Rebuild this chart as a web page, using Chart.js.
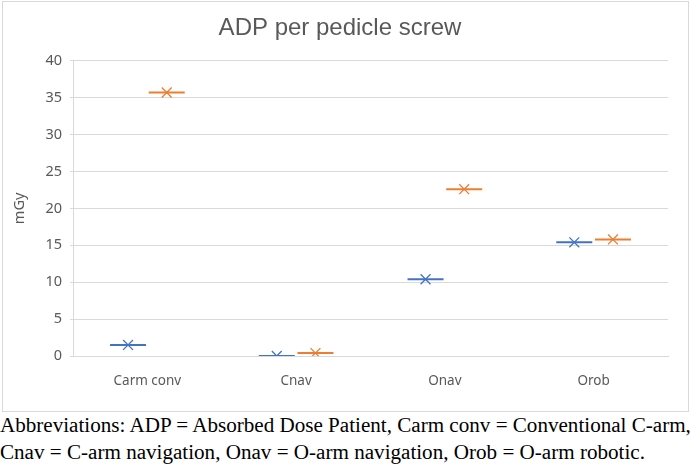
<!DOCTYPE html>
<html>
<head>
<meta charset="utf-8">
<script src="https://cdn.jsdelivr.net/npm/chart.js@4"></script>
<style>
  body { margin: 0; background: #fff; width: 694px; height: 471px; overflow: hidden; position: relative; }
  #box { position: absolute; left: 2px; top: 1px; width: 685px; height: 409px; border: 1px solid #d9d9d9; }
  #caption { position: absolute; left: 0px; top: 412px; font-family: "Liberation Serif", serif; font-size: 21.1px; line-height: 27px; color: #000; white-space: nowrap; }
</style>
</head>
<body>
<div id="box"><canvas id="chart" width="685" height="409"></canvas></div>
<div id="caption">Abbreviations: ADP = Absorbed Dose Patient, Carm conv = Conventional C-arm,<br>Cnav = C-arm navigation, Onav = O-arm navigation, Orob = O-arm robotic.</div>
<script>
const categories = ['Carm conv', 'Cnav', 'Onav', 'Orob'];
const blueValues = [1.5, 0, 10.4, 15.4];
const orangeValues = [35.7, 0.4, 22.6, 15.8];
const yTicks = [0, 5, 10, 15, 20, 25, 30, 35, 40];

const BLUE = '#4472C4';
const ORANGE = '#ED7D31';
const GRAY = '#595959';

// x position inside each category group, blue left and orange right
function toPoints(values, shift) {
    return values.map((v, i) => ({ x: i + shift, y: v }));
}

function seriesSets(label, values, shift, color) {
    const pts = toPoints(values, shift);
    return [
        {
            label: label,
            data: pts,
            clip: 0,
            pointStyle: 'line',
            pointRadius: 18,
            pointHoverRadius: 18,
            pointBorderWidth: 2,
            borderColor: color,
            backgroundColor: color,
            showLine: false,
        },
        {
            label: label + ' mark',
            data: pts,
            clip: 0,
            pointStyle: 'crossRot',
            pointRadius: 7,
            pointHoverRadius: 7,
            pointBorderWidth: 1.3,
            borderColor: color,
            backgroundColor: color,
            showLine: false,
        }
    ];
}

const ctx = document.getElementById('chart').getContext('2d');
new Chart(ctx, {
    type: 'scatter',
    data: {
        datasets: [
            ...seriesSets('Series1', blueValues, -0.13, BLUE),
            ...seriesSets('Series2', orangeValues, 0.13, ORANGE),
        ]
    },
    options: {
        responsive: false,
        animation: false,
        layout: { padding: { left: 0, right: 11, top: 0, bottom: 0 } },
        plugins: {
            legend: { display: false },
            tooltip: { enabled: false },
            title: {
                display: true,
                text: 'ADP per pedicle screw',
                color: GRAY,
                font: { family: 'Liberation Sans', size: 24, weight: 'normal' },
                padding: { top: 12, bottom: 18 }
            }
        },
        scales: {
            x: {
                type: 'linear',
                min: -0.5,
                max: 3.5,
                afterBuildTicks: (scale) => {
                    scale.ticks = categories.map((c, i) => ({ value: i }));
                },
                afterFit: (scale) => { scale.height = 55; },
                grid: { display: false, drawTicks: false },
                border: { display: true, color: '#d9d9d9' },
                ticks: {
                    padding: 17,
                    color: GRAY,
                    font: { family: 'Noto Sans', size: 13.5 },
                    callback: (v) => categories[v]
                }
            },
            y: {
                min: 0,
                max: 40,
                afterBuildTicks: (scale) => {
                    scale.ticks = yTicks.map(v => ({ value: v }));
                },
                afterFit: (scale) => { scale.width = 70; },
                grid: { color: '#d9d9d9', lineWidth: 1, tickLength: 3 },
                border: { display: true, color: '#d9d9d9' },
                title: {
                    display: true,
                    text: 'mGy',
                    color: GRAY,
                    font: { family: 'Noto Sans', size: 14.5 },
                    padding: { top: 8, bottom: 0 }
                },
                ticks: {
                    padding: 8,
                    color: GRAY,
                    font: { family: 'Noto Sans', size: 14.5 }
                }
            }
        }
    }
});
</script>
</body>
</html>
